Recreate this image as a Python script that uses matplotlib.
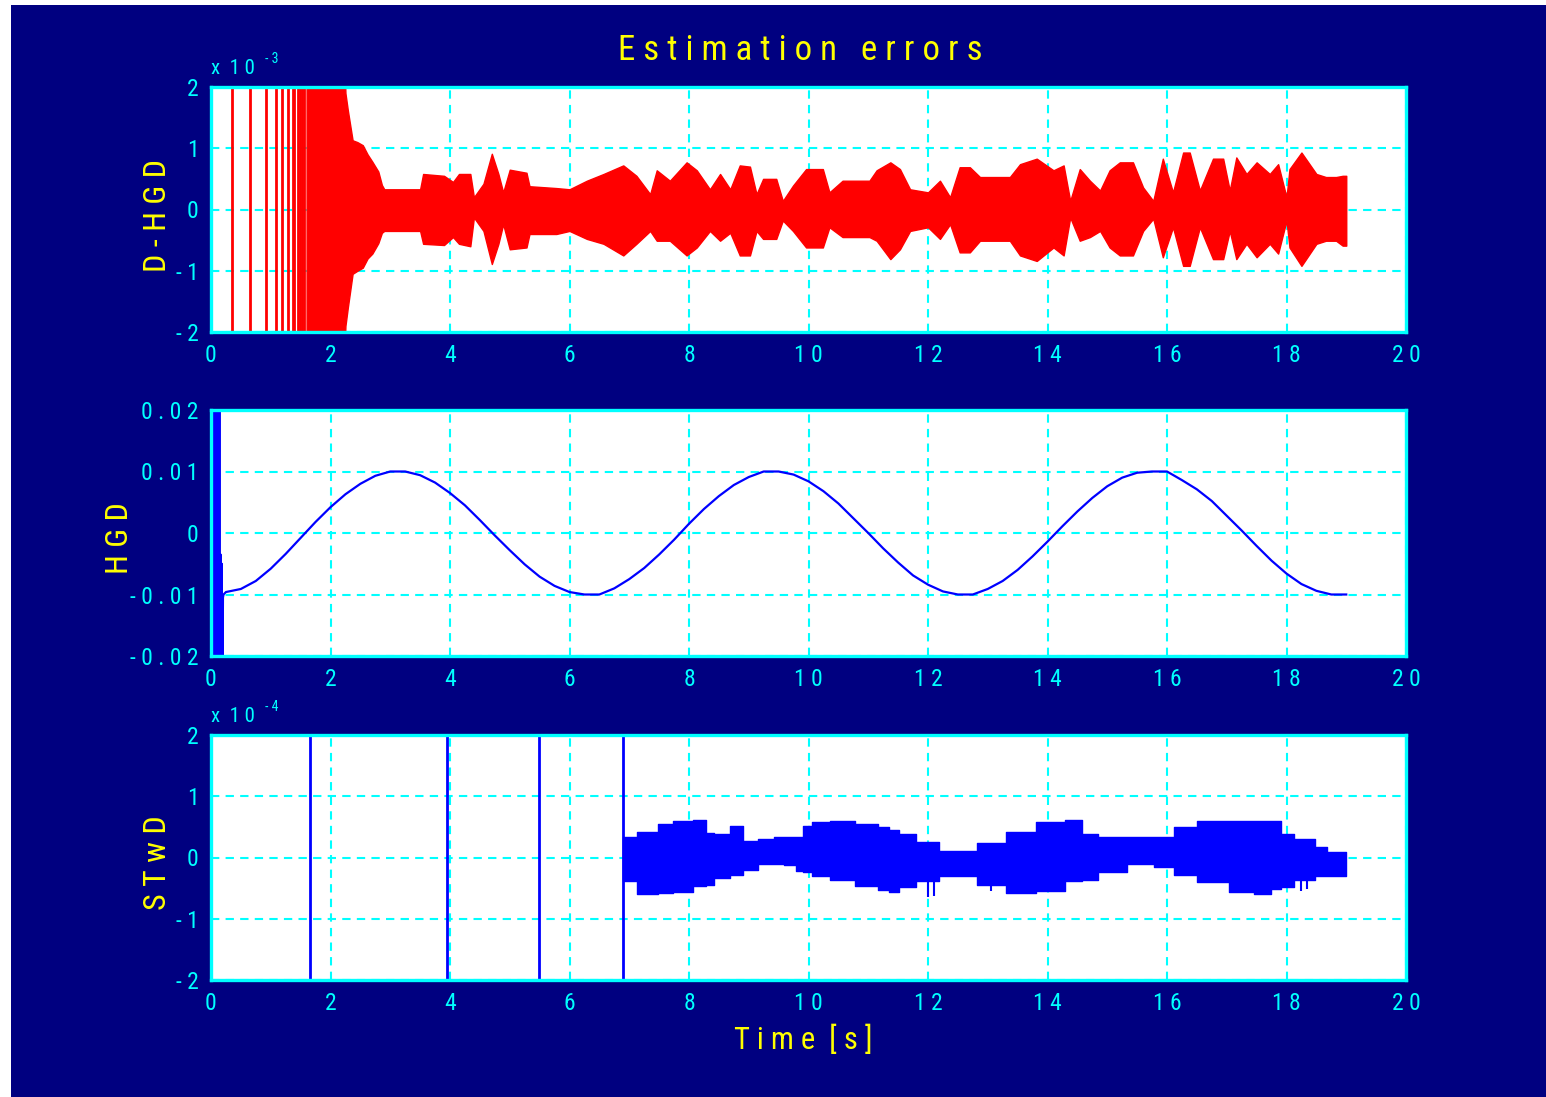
import matplotlib
matplotlib.use('Agg')
import matplotlib.pyplot as plt
from matplotlib import font_manager
from matplotlib.patches import Rectangle
from matplotlib.ticker import FixedLocator, FuncFormatter

# D-HGD error, units of 1e-3: isolated full-scale spikes, then the envelope of the oscillation
dhgd_spike_t = [0.35, 0.65, 0.92, 1.09, 1.18, 1.29, 1.37, 1.39, 1.45, 1.49, 1.52, 1.56]
dhgd_t = [1.60, 2.21, 2.25, 2.29, 2.37, 2.45, 2.54, 2.62, 2.70, 2.80, 2.86, 2.90, 3.50, 3.55,
          3.90, 4.05, 4.15, 4.34, 4.40, 4.56, 4.70, 4.81, 4.89, 5.00, 5.28, 5.33, 5.78, 6.00,
          6.29, 6.57, 6.90, 7.12, 7.35, 7.46, 7.68, 7.96, 8.13, 8.35, 8.52, 8.69, 8.85, 9.02,
          9.13, 9.24, 9.46, 9.57, 9.74, 9.96, 10.24, 10.35, 10.57, 11.02, 11.14, 11.37, 11.53,
          11.70, 12.00, 12.20, 12.37, 12.53, 12.70, 12.87, 13.37, 13.54, 13.82, 14.10, 14.27,
          14.38, 14.54, 14.71, 14.88, 15.04, 15.21, 15.43, 15.60, 15.77, 15.93, 16.10, 16.27,
          16.38, 16.55, 16.77, 16.94, 17.05, 17.16, 17.33, 17.50, 17.72, 17.86, 18.00, 18.05,
          18.25, 18.50, 18.66, 18.83, 18.94, 19.00]
dhgd_hi = [3.0, 3.0, 1.90, 1.62, 1.13, 1.10, 1.05, 0.90, 0.78, 0.62, 0.40, 0.33, 0.33, 0.58,
           0.55, 0.45, 0.58, 0.58, 0.20, 0.42, 0.91, 0.58, 0.28, 0.65, 0.60, 0.38, 0.35, 0.33,
           0.47, 0.58, 0.72, 0.55, 0.25, 0.64, 0.47, 0.77, 0.64, 0.33, 0.58, 0.33, 0.72, 0.70,
           0.25, 0.50, 0.50, 0.14, 0.39, 0.66, 0.66, 0.28, 0.47, 0.47, 0.64, 0.77, 0.66,
           0.33, 0.28, 0.47, 0.20, 0.69, 0.69, 0.53, 0.53, 0.74, 0.83, 0.64, 0.72,
           0.14, 0.66, 0.47, 0.31, 0.64, 0.77, 0.77, 0.36, 0.14, 0.83, 0.28, 0.93,
           0.93, 0.31, 0.83, 0.83, 0.31, 0.85, 0.58, 0.77, 0.58, 0.74, 0.20, 0.66,
           0.93, 0.58, 0.53, 0.53, 0.55, 0.55]
dhgd_lo = [-3.0, -3.0, -1.90, -1.60, -1.05, -1.00, -0.95, -0.80, -0.72, -0.55, -0.38, -0.35, -0.35, -0.56,
           -0.58, -0.45, -0.56, -0.60, -0.13, -0.35, -0.89, -0.56, -0.24, -0.65, -0.62, -0.40, -0.40, -0.35,
           -0.48, -0.56, -0.75, -0.56, -0.35, -0.51, -0.51, -0.75, -0.62, -0.35, -0.51, -0.38, -0.75, -0.75,
           -0.35, -0.48, -0.48, -0.18, -0.35, -0.62, -0.62, -0.29, -0.45, -0.45, -0.51, -0.81, -0.65,
           -0.35, -0.29, -0.48, -0.24, -0.70, -0.70, -0.51, -0.51, -0.75, -0.84, -0.62, -0.75,
           -0.13, -0.51, -0.45, -0.35, -0.62, -0.75, -0.75, -0.35, -0.15, -0.78, -0.29, -0.92,
           -0.92, -0.29, -0.81, -0.81, -0.35, -0.81, -0.56, -0.78, -0.56, -0.72, -0.18, -0.62,
           -0.92, -0.56, -0.51, -0.51, -0.59, -0.59]

# HGD error: start-up transient, then the slow oscillation
hgd_t0 = [0.0, 0.01, 0.02, 0.03, 0.04, 0.05, 0.06, 0.07, 0.08, 0.09, 0.10, 0.11, 0.12, 0.13,
          0.14, 0.15, 0.16, 0.17, 0.18, 0.19, 0.20, 0.21]
hgd_y0 = [0.0, -0.03, 0.03, -0.03, 0.03, -0.03, 0.03, -0.03, 0.03, -0.03, 0.03, -0.03, 0.03, -0.03,
          0.03, -0.03, -0.0035, -0.03, -0.0050, -0.03, -0.0105, -0.0100]
hgd_t = [0.25, 0.50, 0.75, 1.00, 1.25, 1.50, 1.75, 2.00, 2.25, 2.50, 2.75, 3.00, 3.25, 3.50,
         3.75, 4.00, 4.25, 4.50, 4.75, 5.00, 5.25, 5.50, 5.75, 6.00, 6.25, 6.50, 6.75, 7.00,
         7.25, 7.50, 7.75, 8.00, 8.25, 8.50, 8.75, 9.00, 9.25, 9.50, 9.75, 10.00, 10.25, 10.50,
         10.75, 11.00, 11.25, 11.50, 11.75, 12.00, 12.25, 12.50, 12.75, 13.00, 13.25, 13.50,
         13.75, 14.00, 14.25, 14.50, 14.75, 15.00, 15.25, 15.50, 15.75, 16.00, 16.25, 16.50,
         16.75, 17.00, 17.25, 17.50, 17.75, 18.00, 18.25, 18.50, 18.75, 19.00]
hgd_y = [-0.0096, -0.0091, -0.0078, -0.0058, -0.0034, -0.0008, 0.0018, 0.0042, 0.0063, 0.0080,
         0.0093, 0.0100, 0.0100, 0.0094, 0.0082, 0.0065, 0.0045, 0.0021, -0.0004, -0.0028,
         -0.0051, -0.0071, -0.0086, -0.0096, -0.0100, -0.0100, -0.0090, -0.0075, -0.0057,
         -0.0035, -0.0011, 0.0015, 0.0039, 0.0060, 0.0078, 0.0091, 0.0100, 0.0100, 0.0095,
         0.0084, 0.0068, 0.0048, 0.0024, 0.0000, -0.0025, -0.0048, -0.0069, -0.0084, -0.0095,
         -0.0100, -0.0100, -0.0091, -0.0078, -0.0060, -0.0038, -0.0014, 0.0011, 0.0035, 0.0057,
         0.0076, 0.0090, 0.0098, 0.0100, 0.0100, 0.0086, 0.0071, 0.0052, 0.0028, 0.0004,
         -0.0021, -0.0045, -0.0066, -0.0083, -0.0094, -0.0100, -0.0100]

# STwD error, units of 1e-4
stwd_spike_t = [1.66, 3.95, 5.49, 6.90]
stwd_t = [6.90, 7.36, 7.60, 7.88, 8.26, 8.30, 8.55, 8.82, 8.99, 9.33, 9.50, 9.67, 9.90, 9.92,
          10.20, 10.52, 11.03, 11.30, 11.40, 11.63, 11.97, 12.40, 12.65, 13.00, 13.60, 14.03,
          14.55, 14.62, 15.07, 15.58, 15.98, 16.24, 16.76, 17.30, 17.62, 17.86, 17.95, 18.30,
          18.64, 18.70, 19.00]
stwd_hi = [0.33, 0.41, 0.55, 0.60, 0.61, 0.40, 0.38, 0.52, 0.27, 0.30, 0.33, 0.33, 0.33, 0.52,
           0.58, 0.60, 0.55, 0.50, 0.45, 0.38, 0.25, 0.11, 0.11, 0.23, 0.41, 0.58,
           0.61, 0.38, 0.33, 0.33, 0.33, 0.50, 0.60, 0.60, 0.60, 0.60, 0.38, 0.30,
           0.17, 0.09, 0.09]
stwd_lo = [-0.38, -0.60, -0.58, -0.57, -0.47, -0.45, -0.34, -0.28, -0.21, -0.11, -0.11, -0.12, -0.22, -0.24,
           -0.30, -0.36, -0.47, -0.53, -0.57, -0.48, -0.38, -0.31, -0.31, -0.45, -0.58, -0.55,
           -0.39, -0.36, -0.24, -0.11, -0.15, -0.29, -0.40, -0.57, -0.60, -0.52, -0.48, -0.37,
           -0.31, -0.31, -0.31]
stwd_glitch_t = [12.00, 12.10, 13.05, 17.20, 17.70, 18.25, 18.35]
stwd_glitch_y = [-0.65, -0.63, -0.55, -0.52, -0.62, -0.55, -0.52]

NAVY = '#000080'
CYAN = '#00ffff'
YELLOW = '#ffff00'

installed = {f.name for f in font_manager.fontManager.ttflist}
FONT = next((n for n in ['Liberation Sans Narrow', 'Roboto Condensed', 'Open Sans Condensed',
                         'Liberation Sans'] if n in installed), 'DejaVu Sans')
plt.rcParams['font.family'] = [FONT, 'DejaVu Sans']


def spaced(s):
    return ' '.join(s)


W, H = 1546, 1097
fig = plt.figure(figsize=(W / 100, H / 100), dpi=100, facecolor='white')
fig.patches.append(Rectangle((11 / W, 0), 1 - 11 / W, 1 - 5 / H, transform=fig.transFigure,
                             facecolor=NAVY, edgecolor='none', zorder=-10))

left, right = 211 / W, 1406 / W
boxes = [(87, 332), (410, 656), (735, 980)]
axes = []
for top, bot in boxes:
    ax = fig.add_axes([left, 1 - bot / H, right - left, (bot - top) / H])
    ax.set_facecolor('white')
    for s in ax.spines.values():
        s.set_color(CYAN)
        s.set_linewidth(2.4)
    ax.set_xlim(0, 20)
    ax.xaxis.set_major_locator(FixedLocator(range(0, 21, 2)))
    ax.xaxis.set_major_formatter(FuncFormatter(lambda v, p: spaced('%d' % v)))
    ax.tick_params(length=0, labelcolor=CYAN, labelsize=17, pad=9)
    ax.grid(True, color=CYAN, linestyle=(0, (4, 3)), linewidth=1.5)
    ax.set_axisbelow(True)
    axes.append(ax)

ax1, ax2, ax3 = axes

# top: D-HGD
ax1.vlines(dhgd_spike_t, -3, 3, color='red', linewidth=2)
ax1.vlines([0.0], -3, 0, color='red', linewidth=2)
ax1.fill_between(dhgd_t, dhgd_lo, dhgd_hi, color='red', linewidth=1)
ax1.set_ylim(-2, 2)
ax1.yaxis.set_major_locator(FixedLocator([-2, -1, 0, 1, 2]))

# middle: HGD
ax2.plot(hgd_t0 + hgd_t, hgd_y0 + hgd_y, color='blue', linewidth=1.6)
ax2.set_ylim(-0.02, 0.02)
ax2.yaxis.set_major_locator(FixedLocator([-0.02, -0.01, 0, 0.01, 0.02]))

# bottom: STwD
ax3.vlines(stwd_spike_t, -3, 3, color='blue', linewidth=2)
ax3.fill_between(stwd_t, stwd_lo, stwd_hi, color='blue', linewidth=1, step='mid')
ax3.vlines(stwd_glitch_t, -0.2, stwd_glitch_y, color='blue', linewidth=1.5)
ax3.set_ylim(-2, 2)
ax3.yaxis.set_major_locator(FixedLocator([-2, -1, 0, 1, 2]))


def ytick_fmt(v, p):
    s = '%g' % round(v, 4)
    return spaced(s)


for ax in axes:
    ax.yaxis.set_major_formatter(FuncFormatter(ytick_fmt))

# exponent labels above the scaled panels
for ax, exp in [(ax1, '-3'), (ax3, '-4')]:
    ax.text(0.0, 1.035, 'x  1 0', transform=ax.transAxes, color=CYAN, fontsize=15,
            ha='left', va='bottom')
    ax.text(0.045, 1.085, spaced(exp), transform=ax.transAxes, color=CYAN, fontsize=10,
            ha='left', va='bottom')

ylab = dict(color=YELLOW, fontsize=23, rotation=90, ha='center', va='center')
fig.text(157 / W, 1 - 215 / H, 'D - H G D', **ylab)
fig.text(120 / W, 1 - 538 / H, 'H G D', **ylab)
fig.text(157 / W, 1 - 863 / H, 'S T w D', **ylab)

fig.text(800 / W, 1 - 50 / H, spaced('Estimation') + '   ' + spaced('errors'),
         color=YELLOW, fontsize=25, ha='center', va='center')
fig.text(803 / W, 1 - 1040 / H, 'T i m e  [ s ]', color=YELLOW, fontsize=22,
         ha='center', va='center')

fig.savefig('out.png', dpi=100, facecolor='white')
